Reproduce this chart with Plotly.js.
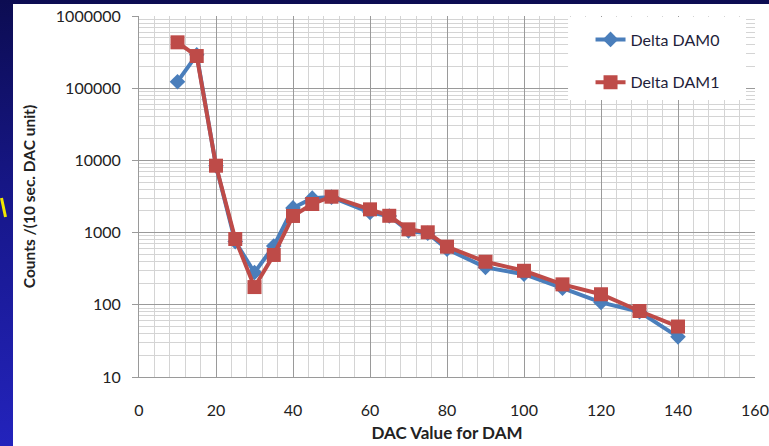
<!DOCTYPE html>
<html>
<head>
<meta charset="utf-8">
<script src="https://cdn.plot.ly/plotly-3.0.1.min.js"></script>
<style>
  html, body { margin: 0; padding: 0; }
  body {
    width: 769px; height: 446px; overflow: hidden; position: relative;
    background: linear-gradient(to bottom, #0c0c52 0%, #17178a 45%, #2323bc 100%);
  }
  #panel {
    position: absolute; left: 13px; top: 4px; width: 756px; height: 442px;
    background: #ffffff;
  }
  #mark {
    position: absolute; left: 0px; top: 197px; width: 7px; height: 22px;
  }
  #chart { position: absolute; left: 0; top: 0; width: 769px; height: 446px; }
</style>
</head>
<body>
<div id="panel"></div>
<svg id="mark" viewBox="0 0 7 22"><line x1="1.5" y1="1" x2="5.5" y2="20" stroke="#f2e600" stroke-width="3"/></svg>
<div id="chart"></div>
<script>
// DAC scan values for DAM
const dacValues = [10, 15, 20, 25, 30, 35, 40, 45, 50, 60, 65, 70, 75, 80, 90, 100, 110, 120, 130, 140];
// Counts per 10 s per DAC unit
const deltaDam0 = [123000, 290000, 8400, 750, 280, 650, 2200, 3000, 3100, 1900, 1700, 1050, 980, 590, 330, 265, 170, 108, 80, 36];
const deltaDam1 = [432000, 279000, 8450, 815, 176, 490, 1700, 2490, 3140, 2100, 1710, 1110, 1010, 638, 395, 296, 192, 140, 82, 50];

const seriesNames = ['Delta DAM0', 'Delta DAM1'];
const xTicks = [0, 20, 40, 60, 80, 100, 120, 140, 160];
const yTicks = [10, 100, 1000, 10000, 100000, 1000000];
const yTickText = ['10', '100', '1000', '10000', '100000', '1000000'];

const FONT = 'Lato, "Open Sans", sans-serif';

const traces = [
  {
    x: dacValues, y: deltaDam0, name: seriesNames[0], type: 'scatter', mode: 'lines+markers',
    legendgroup: 'a',
    line: { color: '#4a7ebb', width: 4 },
    marker: { symbol: 'diamond', size: 12, color: '#4a7ebb' }
  },
  {
    x: dacValues, y: deltaDam1, name: seriesNames[1], type: 'scatter', mode: 'lines+markers',
    legendgroup: 'b',
    line: { color: '#be4b48', width: 4 },
    marker: { symbol: 'square', size: 14, color: '#be4b48' }
  }
];

const layout = {
  width: 769, height: 446,
  margin: { l: 139, r: 14, t: 16, b: 69 },
  paper_bgcolor: 'rgba(0,0,0,0)',
  plot_bgcolor: '#ffffff',
  font: { family: FONT, size: 16, color: '#222222' },
  showlegend: true,
  legend: {
    x: 0.733, y: 0.982, xanchor: 'left', yanchor: 'top',
    bgcolor: 'rgba(255,255,255,0)', borderwidth: 0,
    font: { family: FONT, size: 16, color: '#1e1e3a' },
    tracegroupgap: 19,
    traceorder: 'grouped'
  },
  // white legend panel covering the grid
  shapes: [{
    type: 'rect', xref: 'paper', yref: 'paper', layer: 'above',
    x0: 0.6965, x1: 0.9854, y0: 0.767, y1: 0.9972,
    fillcolor: '#ffffff', line: { width: 0 }
  }],
  xaxis: {
    range: [0, 160],
    tickvals: xTicks,
    showgrid: true, gridcolor: '#9a9a9a', gridwidth: 1,
    minor: { dtick: 4, showgrid: true, gridcolor: '#d4d4d4', gridwidth: 1 },
    zeroline: false,
    showline: true, linecolor: '#9a9a9a', linewidth: 1,
    ticks: '', ticklabelstandoff: 19,
    tickfont: { family: FONT, size: 16, color: '#222' },
    title: { text: '<b>DAC Value for DAM</b>', font: { family: FONT, size: 17, color: '#222' }, standoff: 8 }
  },
  yaxis: {
    type: 'log',
    range: [1, 6],
    tickvals: yTicks, ticktext: yTickText,
    showgrid: true, gridcolor: '#9a9a9a', gridwidth: 1,
    minor: { dtick: 'D1', showgrid: true, gridcolor: '#d4d4d4', gridwidth: 1 },
    zeroline: false,
    showline: true, linecolor: '#9a9a9a', linewidth: 1,
    ticks: 'outside', ticklen: 6, tickcolor: '#9a9a9a',
    ticklabelstandoff: 8,
    tickfont: { family: FONT, size: 16, color: '#222' },
    title: { text: '<b>Counts /(10 sec. DAC unit)</b>', font: { family: FONT, size: 15.5, color: '#222' }, standoff: 16 }
  }
};

Plotly.newPlot('chart', traces, layout, { displayModeBar: false, staticPlot: true });
</script>
</body>
</html>
